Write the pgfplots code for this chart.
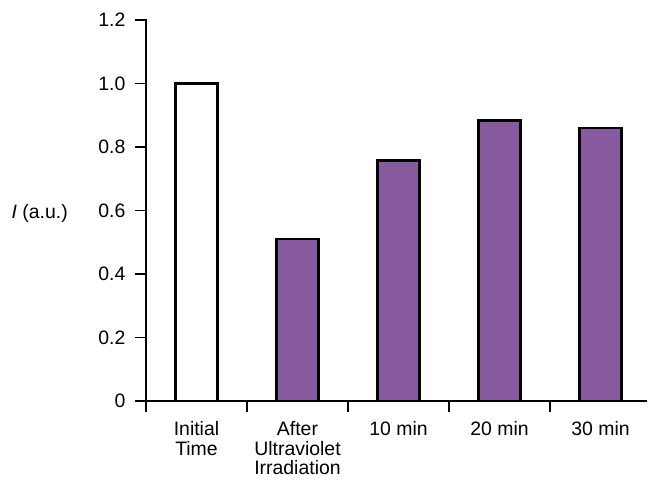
\documentclass[border=0pt]{standalone}
\usepackage{pgfplots}
\pgfplotsset{compat=1.18}
\usepackage{fontspec}
\setmainfont{Liberation Sans}
\definecolor{barpurple}{RGB}{135,90,160}
\begin{document}
\fontsize{19.5}{20}\selectfont
\begin{tikzpicture}
\begin{axis}[
  scale only axis,
  width=500bp, height=381bp,
  xmin=-0.5, xmax=4.45,
  ymin=0, ymax=1.2,
  clip=false,
  axis lines*=left,
  axis line style={line width=1.8bp, line cap=rect},
  tick style={line width=1.8bp, black},
  tick align=outside,
  major tick length=11bp,
  ytick={0,0.2,0.4,0.6,0.8,1.0,1.2},
  yticklabels={0,0.2,0.4,0.6,0.8,1.0,1.2},
  xtick={-0.5,0.5,1.5,2.5,3.5},
  xticklabels={Initial\\Time, After\\Ultraviolet\\Irradiation, 10 min, 20 min, 30 min},
  xticklabel style={xshift=50.5bp, align=center, anchor=north, yshift=-3bp},
  yticklabel style={xshift=-3bp},
  /pgf/number format/assume math mode=true,
  ticklabel style={font=\fontsize{19.5}{19.5}\selectfont},
]
\addplot[ybar, bar width=42bp, fill=white, draw=black, line width=2.6bp]
  coordinates {(0,1.0)};
\addplot[ybar, bar width=42bp, fill=barpurple, draw=black, line width=2.6bp]
  coordinates {(1,0.51) (2,0.758) (3,0.883) (4,0.86)};
\node[anchor=east, inner sep=0pt, font=\fontsize{19.5}{20}\selectfont] at (axis cs:-0.5,0.59) [xshift=-78bp] {\textit{I} (a.u.)};
\path (axis cs:-1.9455,-0.2488) rectangle (axis cs:4.48,1.263);
\end{axis}
\end{tikzpicture}
\end{document}
